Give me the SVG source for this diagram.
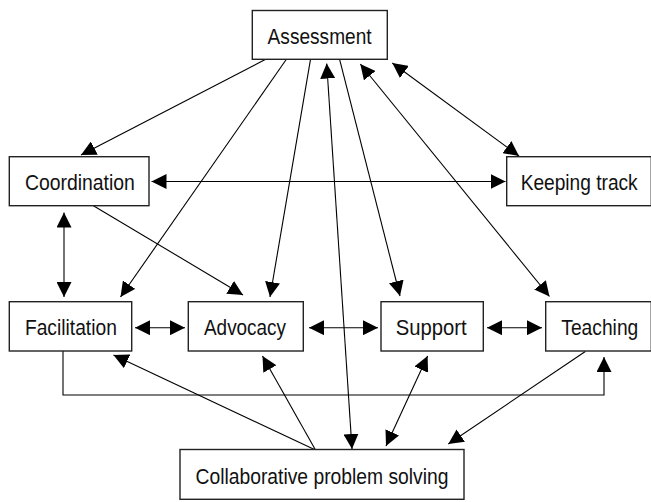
<svg xmlns="http://www.w3.org/2000/svg" width="651" height="502" viewBox="0 0 651 502">
<style>
.box{fill:#fff;stroke:#222;stroke-width:1.4}
.lbl{font-family:"Liberation Sans",Arial,sans-serif;font-size:22.5px;fill:#111;text-anchor:middle}
.c{fill:none;stroke:#000;stroke-width:1.1}
.e{marker-end:url(#ah)}
.b{marker-end:url(#ah);marker-start:url(#ah)}
</style>
<defs>
<marker id="ah" markerUnits="userSpaceOnUse" viewBox="0 0 15 15" markerWidth="15" markerHeight="15" refX="15" refY="7.5" orient="auto-start-reverse">
<path d="M0,0 L15,7.5 L0,15 z" fill="#000"/>
</marker>
</defs>
<rect width="651" height="502" fill="#fff"/>
<g id="connectors">
<path class="c e" d="M265.7,59.3 L81,155"/>
<path class="c e" d="M286.4,59.3 L120.5,297"/>
<path class="c e" d="M310.5,59.3 L270,297"/>
<path class="c b" d="M326.7,63.5 L352,449"/>
<path class="c e" d="M339.6,59.3 L400,296"/>
<path class="c b" d="M360.3,64 L549.5,296.5"/>
<path class="c b" d="M392.3,63 L519,156"/>
<path class="c b" d="M151.5,181.5 L505.5,181.5"/>
<path class="c b" d="M64,212.5 L64,297"/>
<path class="c e" d="M93.4,205.7 L243,295"/>
<path class="c b" d="M135,327.7 L185,327.7"/>
<path class="c b" d="M309,327.7 L378,327.7"/>
<path class="c b" d="M487,327.7 L542,327.7"/>
<path class="c e" d="M63,351 V395 H604 V357"/>
<path class="c e" d="M315.5,450 L113.5,355"/>
<path class="c e" d="M315.5,450 L262.5,356"/>
<path class="c b" d="M427.6,356 L386,446"/>
<path class="c e" d="M585.3,351.5 L448.3,444"/>
</g>
<g id="assessment">
<rect class="box" x="252.3" y="10.5" width="135" height="48.8"/>
<text class="lbl" x="319.6" y="44" textLength="104" lengthAdjust="spacingAndGlyphs">Assessment</text>
</g>
<g id="coordination">
<rect class="box" x="9.3" y="156.7" width="139.7" height="49"/>
<text class="lbl" x="79.9" y="189.5" textLength="110" lengthAdjust="spacingAndGlyphs">Coordination</text>
</g>
<g id="keeping-track">
<rect class="box" x="506.7" y="156.7" width="144.6" height="49"/>
<text class="lbl" x="579.2" y="189.5" textLength="117" lengthAdjust="spacingAndGlyphs">Keeping track</text>
</g>
<g id="facilitation">
<rect class="box" x="9.3" y="301.7" width="122.4" height="49.3"/>
<text class="lbl" x="70.9" y="335" textLength="92" lengthAdjust="spacingAndGlyphs">Facilitation</text>
</g>
<g id="advocacy">
<rect class="box" x="188.3" y="301.7" width="115" height="49.3"/>
<text class="lbl" x="245" y="335" textLength="82" lengthAdjust="spacingAndGlyphs">Advocacy</text>
</g>
<g id="support">
<rect class="box" x="381" y="301.7" width="102.3" height="49.3"/>
<text class="lbl" x="431.2" y="335" textLength="71" lengthAdjust="spacingAndGlyphs">Support</text>
</g>
<g id="teaching">
<rect class="box" x="545.7" y="301.7" width="105.6" height="49.3"/>
<text class="lbl" x="599.8" y="335" textLength="77" lengthAdjust="spacingAndGlyphs">Teaching</text>
</g>
<g id="collaborative-problem-solving">
<rect class="box" x="180" y="449.5" width="284" height="49.8"/>
<text class="lbl" x="322" y="484" textLength="253" lengthAdjust="spacingAndGlyphs">Collaborative problem solving</text>
</g>
</svg>
